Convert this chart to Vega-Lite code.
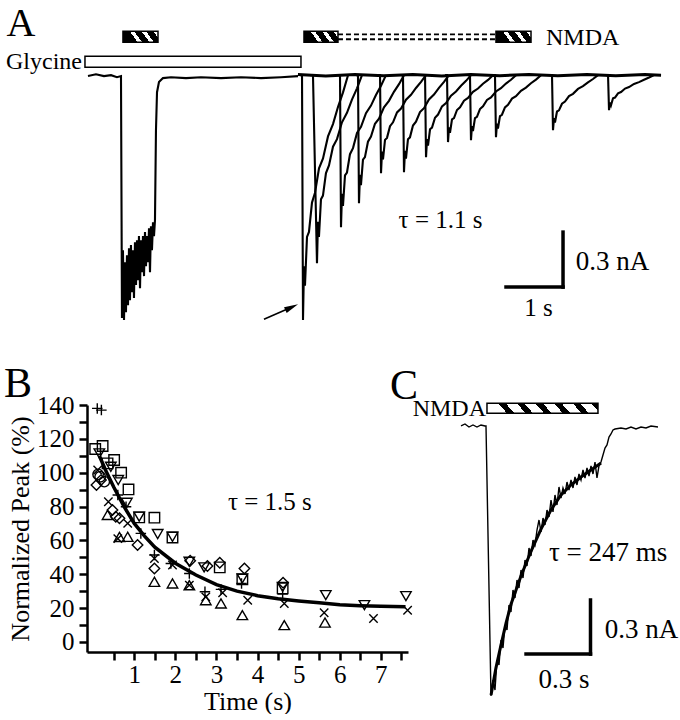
{
"$schema":"https://vega.github.io/schema/vega-lite/v6.json",
"padding":{"left":3,"top":0,"right":0,"bottom":0},
"background":"white",
"bounds":"flush",
"spacing":75,
"config":{"view":{"stroke":null},"font":"Liberation Serif","text":{"font":"Liberation Serif","color":"black"},"axis":{"grid":false,"labelFont":"Liberation Serif","titleFont":"Liberation Serif"}},
"datasets":{
"traceA":[
{"s":"g","t":1.500,"i":-0.005},{"s":"g","t":1.638,"i":0.005},{"s":"g","t":1.776,"i":-0.005},{"s":"g","t":1.897,"i":0},{"s":"g","t":2.000,"i":-0.011},{"s":"g","t":2.069,"i":-0.005},{"s":"g","t":2.086,"i":-1.325},{"s":"g","t":2.103,"i":-0.955},{"s":"g","t":2.121,"i":-1.336},{"s":"g","t":2.138,"i":-1.020},{"s":"g","t":2.155,"i":-1.293},{"s":"g","t":2.172,"i":-0.982},{"s":"g","t":2.190,"i":-1.255},{"s":"g","t":2.207,"i":-0.944},{"s":"g","t":2.224,"i":-1.227},{"s":"g","t":2.241,"i":-0.927},{"s":"g","t":2.259,"i":-1.184},{"s":"g","t":2.276,"i":-0.955},{"s":"g","t":2.293,"i":-1.216},{"s":"g","t":2.310,"i":-0.911},{"s":"g","t":2.328,"i":-1.145},{"s":"g","t":2.345,"i":-0.900},{"s":"g","t":2.362,"i":-1.118},{"s":"g","t":2.379,"i":-0.878},{"s":"g","t":2.397,"i":-1.162},{"s":"g","t":2.414,"i":-0.900},{"s":"g","t":2.431,"i":-1.075},{"s":"g","t":2.448,"i":-0.878},{"s":"g","t":2.466,"i":-1.096},{"s":"g","t":2.483,"i":-0.856},{"s":"g","t":2.500,"i":-1.042},{"s":"g","t":2.517,"i":-0.878},{"s":"g","t":2.534,"i":-1.020},{"s":"g","t":2.552,"i":-0.835},{"s":"g","t":2.569,"i":-1.075},{"s":"g","t":2.586,"i":-0.824},{"s":"g","t":2.603,"i":-0.955},{"s":"g","t":2.621,"i":-0.802},{"s":"g","t":2.638,"i":-0.878},{"s":"g","t":2.655,"i":-0.791},{"s":"g","t":2.672,"i":-0.300},{"s":"g","t":2.690,"i":-0.093},{"s":"g","t":2.724,"i":-0.038},{"s":"g","t":2.793,"i":-0.016},{"s":"g","t":2.931,"i":-0.011},{"s":"g","t":3.190,"i":-0.016},{"s":"g","t":3.448,"i":-0.011},{"s":"g","t":3.793,"i":-0.016},{"s":"g","t":4.138,"i":-0.011},{"s":"g","t":4.483,"i":-0.016},{"s":"g","t":4.828,"i":-0.011},{"s":"g","t":5.121,"i":-0.005},
{"s":"b","t":5.12,"i":0.003},{"s":"b","t":5.6,"i":-0.004},{"s":"b","t":6.1,"i":0.004},{"s":"b","t":6.6,"i":-0.003},{"s":"b","t":7.1,"i":0.004},{"s":"b","t":7.6,"i":-0.004},{"s":"b","t":8.1,"i":0.003},{"s":"b","t":8.6,"i":-0.003},{"s":"b","t":9.1,"i":0.004},{"s":"b","t":9.6,"i":-0.003},{"s":"b","t":10.1,"i":0.003},{"s":"b","t":10.6,"i":-0.003},{"s":"b","t":11.1,"i":0.003},{"s":"b","t":11.38,"i":0},
{"s":"s1","t":5.157,"i":0},{"s":"s1","t":5.190,"i":0},{"s":"s1","t":5.207,"i":-1.336},{"s":"s1","t":5.224,"i":-1.042},{"s":"s1","t":5.241,"i":-1.149},{"s":"s1","t":5.276,"i":-0.882},{"s":"s1","t":5.310,"i":-0.855},{"s":"s1","t":5.362,"i":-0.695},{"s":"s1","t":5.414,"i":-0.641},{"s":"s1","t":5.483,"i":-0.508},{"s":"s1","t":5.552,"i":-0.454},{"s":"s1","t":5.638,"i":-0.334},{"s":"s1","t":5.724,"i":-0.267},{"s":"s1","t":5.810,"i":-0.174},{"s":"s1","t":5.897,"i":-0.094},{"s":"s1","t":5.983,"i":0},
{"s":"s2","t":5.330,"i":0},{"s":"s2","t":5.379,"i":0},{"s":"s2","t":5.448,"i":-1.026},{"s":"s2","t":5.465,"i":-0.800},{"s":"s2","t":5.482,"i":-0.882},{"s":"s2","t":5.517,"i":-0.677},{"s":"s2","t":5.551,"i":-0.657},{"s":"s2","t":5.603,"i":-0.534},{"s":"s2","t":5.655,"i":-0.492},{"s":"s2","t":5.724,"i":-0.390},{"s":"s2","t":5.793,"i":-0.349},{"s":"s2","t":5.879,"i":-0.257},{"s":"s2","t":5.965,"i":-0.205},{"s":"s2","t":6.051,"i":-0.133},{"s":"s2","t":6.138,"i":-0.072},{"s":"s2","t":6.224,"i":0},
{"s":"s3","t":5.812,"i":0},{"s":"s3","t":5.845,"i":0},{"s":"s3","t":5.862,"i":-0.829},{"s":"s3","t":5.879,"i":-0.647},{"s":"s3","t":5.896,"i":-0.713},{"s":"s3","t":5.931,"i":-0.547},{"s":"s3","t":5.965,"i":-0.531},{"s":"s3","t":6.017,"i":-0.431},{"s":"s3","t":6.069,"i":-0.398},{"s":"s3","t":6.138,"i":-0.315},{"s":"s3","t":6.207,"i":-0.282},{"s":"s3","t":6.293,"i":-0.207},{"s":"s3","t":6.379,"i":-0.166},{"s":"s3","t":6.465,"i":-0.108},{"s":"s3","t":6.552,"i":-0.058},{"s":"s3","t":6.638,"i":0},
{"s":"s4","t":6.122,"i":0},{"s":"s4","t":6.155,"i":0},{"s":"s4","t":6.172,"i":-0.698},{"s":"s4","t":6.189,"i":-0.544},{"s":"s4","t":6.206,"i":-0.600},{"s":"s4","t":6.241,"i":-0.461},{"s":"s4","t":6.275,"i":-0.447},{"s":"s4","t":6.327,"i":-0.363},{"s":"s4","t":6.379,"i":-0.335},{"s":"s4","t":6.448,"i":-0.265},{"s":"s4","t":6.517,"i":-0.237},{"s":"s4","t":6.603,"i":-0.175},{"s":"s4","t":6.689,"i":-0.140},{"s":"s4","t":6.775,"i":-0.091},{"s":"s4","t":6.862,"i":-0.049},{"s":"s4","t":6.948,"i":0},
{"s":"s5","t":6.502,"i":0},{"s":"s5","t":6.535,"i":0},{"s":"s5","t":6.552,"i":-0.535},{"s":"s5","t":6.569,"i":-0.417},{"s":"s5","t":6.586,"i":-0.460},{"s":"s5","t":6.621,"i":-0.353},{"s":"s5","t":6.655,"i":-0.342},{"s":"s5","t":6.707,"i":-0.278},{"s":"s5","t":6.759,"i":-0.257},{"s":"s5","t":6.828,"i":-0.203},{"s":"s5","t":6.897,"i":-0.182},{"s":"s5","t":6.983,"i":-0.134},{"s":"s5","t":7.069,"i":-0.107},{"s":"s5","t":7.155,"i":-0.070},{"s":"s5","t":7.242,"i":-0.037},{"s":"s5","t":7.328,"i":0},
{"s":"s6","t":6.898,"i":0},{"s":"s6","t":6.931,"i":0},{"s":"s6","t":6.948,"i":-0.529},{"s":"s6","t":6.965,"i":-0.413},{"s":"s6","t":6.982,"i":-0.455},{"s":"s6","t":7.017,"i":-0.349},{"s":"s6","t":7.051,"i":-0.339},{"s":"s6","t":7.103,"i":-0.275},{"s":"s6","t":7.155,"i":-0.254},{"s":"s6","t":7.224,"i":-0.201},{"s":"s6","t":7.293,"i":-0.180},{"s":"s6","t":7.379,"i":-0.132},{"s":"s6","t":7.465,"i":-0.106},{"s":"s6","t":7.551,"i":-0.069},{"s":"s6","t":7.638,"i":-0.037},{"s":"s6","t":7.724,"i":0},
{"s":"s7","t":7.278,"i":0},{"s":"s7","t":7.311,"i":0},{"s":"s7","t":7.328,"i":-0.447},{"s":"s7","t":7.345,"i":-0.349},{"s":"s7","t":7.362,"i":-0.384},{"s":"s7","t":7.397,"i":-0.295},{"s":"s7","t":7.431,"i":-0.286},{"s":"s7","t":7.483,"i":-0.232},{"s":"s7","t":7.535,"i":-0.215},{"s":"s7","t":7.604,"i":-0.170},{"s":"s7","t":7.673,"i":-0.152},{"s":"s7","t":7.759,"i":-0.112},{"s":"s7","t":7.845,"i":-0.089},{"s":"s7","t":7.931,"i":-0.058},{"s":"s7","t":8.018,"i":-0.031},{"s":"s7","t":8.104,"i":0},
{"s":"s8","t":7.657,"i":0},{"s":"s8","t":7.690,"i":0},{"s":"s8","t":7.707,"i":-0.365},{"s":"s8","t":7.724,"i":-0.285},{"s":"s8","t":7.741,"i":-0.314},{"s":"s8","t":7.776,"i":-0.241},{"s":"s8","t":7.810,"i":-0.234},{"s":"s8","t":7.862,"i":-0.190},{"s":"s8","t":7.914,"i":-0.175},{"s":"s8","t":7.983,"i":-0.139},{"s":"s8","t":8.052,"i":-0.124},{"s":"s8","t":8.138,"i":-0.091},{"s":"s8","t":8.224,"i":-0.073},{"s":"s8","t":8.310,"i":-0.047},{"s":"s8","t":8.397,"i":-0.026},{"s":"s8","t":8.483,"i":0},
{"s":"s9","t":8.053,"i":0},{"s":"s9","t":8.086,"i":0},{"s":"s9","t":8.103,"i":-0.355},{"s":"s9","t":8.120,"i":-0.277},{"s":"s9","t":8.137,"i":-0.305},{"s":"s9","t":8.172,"i":-0.234},{"s":"s9","t":8.206,"i":-0.227},{"s":"s9","t":8.258,"i":-0.185},{"s":"s9","t":8.310,"i":-0.170},{"s":"s9","t":8.379,"i":-0.135},{"s":"s9","t":8.448,"i":-0.121},{"s":"s9","t":8.534,"i":-0.089},{"s":"s9","t":8.620,"i":-0.071},{"s":"s9","t":8.706,"i":-0.046},{"s":"s9","t":8.793,"i":-0.025},{"s":"s9","t":8.879,"i":0},
{"s":"s10","t":8.484,"i":0},{"s":"s10","t":8.517,"i":0},{"s":"s10","t":8.534,"i":-0.338},{"s":"s10","t":8.551,"i":-0.264},{"s":"s10","t":8.568,"i":-0.291},{"s":"s10","t":8.603,"i":-0.223},{"s":"s10","t":8.637,"i":-0.216},{"s":"s10","t":8.689,"i":-0.176},{"s":"s10","t":8.741,"i":-0.162},{"s":"s10","t":8.810,"i":-0.128},{"s":"s10","t":8.879,"i":-0.115},{"s":"s10","t":8.965,"i":-0.085},{"s":"s10","t":9.051,"i":-0.068},{"s":"s10","t":9.137,"i":-0.044},{"s":"s10","t":9.224,"i":-0.024},{"s":"s10","t":9.310,"i":0},
{"s":"s11","t":9.467,"i":0},{"s":"s11","t":9.500,"i":0},{"s":"s11","t":9.517,"i":-0.300},{"s":"s11","t":9.534,"i":-0.234},{"s":"s11","t":9.551,"i":-0.258},{"s":"s11","t":9.586,"i":-0.198},{"s":"s11","t":9.620,"i":-0.192},{"s":"s11","t":9.672,"i":-0.156},{"s":"s11","t":9.724,"i":-0.144},{"s":"s11","t":9.793,"i":-0.114},{"s":"s11","t":9.862,"i":-0.102},{"s":"s11","t":9.948,"i":-0.075},{"s":"s11","t":10.034,"i":-0.060},{"s":"s11","t":10.120,"i":-0.039},{"s":"s11","t":10.207,"i":-0.021},{"s":"s11","t":10.293,"i":0},
{"s":"s12","t":10.433,"i":0},{"s":"s12","t":10.466,"i":0},{"s":"s12","t":10.483,"i":-0.191},{"s":"s12","t":10.500,"i":-0.149},{"s":"s12","t":10.517,"i":-0.164},{"s":"s12","t":10.552,"i":-0.126},{"s":"s12","t":10.586,"i":-0.122},{"s":"s12","t":10.638,"i":-0.099},{"s":"s12","t":10.690,"i":-0.092},{"s":"s12","t":10.759,"i":-0.073},{"s":"s12","t":10.828,"i":-0.065},{"s":"s12","t":10.914,"i":-0.048},{"s":"s12","t":11.000,"i":-0.038},{"s":"s12","t":11.086,"i":-0.025},{"s":"s12","t":11.173,"i":-0.013},{"s":"s12","t":11.259,"i":0}
],
"pts":[
{"m":"plus","t":0.10,"y":138},{"m":"plus","t":0.20,"y":137},{"m":"plus","t":0.60,"y":86.8},{"m":"plus","t":0.80,"y":79.9},{"m":"plus","t":1.16,"y":64.1},{"m":"plus","t":1.49,"y":51.3},{"m":"plus","t":1.89,"y":46.3},{"m":"plus","t":2.34,"y":40.4},{"m":"plus","t":2.72,"y":29.6},{"m":"plus","t":3.11,"y":31},{"m":"plus","t":3.61,"y":34.5},{"m":"plus","t":4.61,"y":28.2},
{"m":"square","t":0.05,"y":114},{"m":"square","t":0.23,"y":115.8},{"m":"square","t":0.35,"y":105.5},{"m":"square","t":0.51,"y":107.5},{"m":"square","t":0.68,"y":100},{"m":"square","t":0.86,"y":90.1},{"m":"square","t":1.12,"y":73.6},{"m":"square","t":1.49,"y":73.4},{"m":"square","t":1.93,"y":61.7},{"m":"square","t":3.08,"y":44},{"m":"square","t":3.63,"y":36.9},{"m":"square","t":4.61,"y":31.6},
{"m":"tri_down","t":0.15,"y":111.4},{"m":"tri_down","t":0.43,"y":103.5},{"m":"tri_down","t":0.61,"y":95.6},{"m":"tri_down","t":0.82,"y":82.2},{"m":"tri_down","t":1.12,"y":74},{"m":"tri_down","t":1.57,"y":63.7},{"m":"tri_down","t":1.93,"y":62.1},{"m":"tri_down","t":2.34,"y":47.3},{"m":"tri_down","t":2.70,"y":44},{"m":"tri_down","t":3.63,"y":37.5},{"m":"tri_down","t":4.61,"y":32.5},{"m":"tri_down","t":5.66,"y":27.6},{"m":"tri_down","t":6.60,"y":21.7},{"m":"tri_down","t":7.61,"y":27},
{"m":"diamond","t":0.08,"y":92.7},{"m":"diamond","t":0.19,"y":95.6},{"m":"diamond","t":0.47,"y":77.9},{"m":"diamond","t":0.55,"y":74},{"m":"diamond","t":0.64,"y":73},{"m":"diamond","t":1.08,"y":57.2},{"m":"diamond","t":1.49,"y":43.4},{"m":"diamond","t":2.36,"y":47.9},{"m":"diamond","t":2.78,"y":44.8},{"m":"diamond","t":3.08,"y":46.7},{"m":"diamond","t":3.68,"y":43.4},{"m":"diamond","t":4.62,"y":34.9},
{"m":"circle","t":0.17,"y":97.6},{"m":"circle","t":0.27,"y":94.7},{"m":"circle","t":0.12,"y":99},
{"m":"x","t":0.11,"y":101.6},{"m":"x","t":0.37,"y":82.8},{"m":"x","t":0.60,"y":61},{"m":"x","t":0.84,"y":70},{"m":"x","t":1.49,"y":49.3},{"m":"x","t":1.93,"y":45.4},{"m":"x","t":2.34,"y":33.5},{"m":"x","t":2.74,"y":26.6},{"m":"x","t":3.15,"y":29},{"m":"x","t":3.76,"y":24.6},{"m":"x","t":4.65,"y":22.7},{"m":"x","t":5.62,"y":17.2},{"m":"x","t":6.82,"y":13.8},{"m":"x","t":7.65,"y":18.7},
{"m":"tri_up","t":0.35,"y":75},{"m":"tri_up","t":0.64,"y":62},{"m":"tri_up","t":0.84,"y":62.1},{"m":"tri_up","t":1.49,"y":35.5},{"m":"tri_up","t":1.93,"y":34.5},{"m":"tri_up","t":2.34,"y":33.5},{"m":"tri_up","t":2.74,"y":24.6},{"m":"tri_up","t":3.11,"y":22.7},{"m":"tri_up","t":3.63,"y":15.8},{"m":"tri_up","t":4.65,"y":9.9},{"m":"tri_up","t":5.64,"y":11.4}
],
"fitB":[
{"t":0.15,"y":110},{"t":0.3,"y":101.6},{"t":0.5,"y":91.5},{"t":0.75,"y":80},{"t":1.0,"y":70},{"t":1.25,"y":62.5},{"t":1.5,"y":56},{"t":2.0,"y":46.5},{"t":2.5,"y":39.5},{"t":3.0,"y":33.8},{"t":3.5,"y":30},{"t":4.0,"y":27.3},{"t":4.5,"y":25.5},{"t":5.0,"y":24.2},{"t":5.5,"y":23.1},{"t":6.0,"y":22},{"t":6.5,"y":21.4},{"t":7.0,"y":21},{"t":7.6,"y":20.7}
],
"traceC":[
{"t":0.1364,"i":0},{"t":0.1545,"i":0.011},{"t":0.1727,"i":-0.0055},{"t":0.1909,"i":0.0055},{"t":0.2091,"i":-0.0055},{"t":0.2273,"i":0.0055},{"t":0.2455,"i":0},{"t":0.25,"i":0},{"t":0.2727,"i":-1.4727},{"t":0.2818,"i":-1.3855},{"t":0.2909,"i":-1.44},{"t":0.3,"i":-1.2764},{"t":0.3091,"i":-1.3036},{"t":0.3182,"i":-1.1673},{"t":0.3273,"i":-1.2109},{"t":0.3364,"i":-1.0855},{"t":0.3455,"i":-1.1127},{"t":0.3545,"i":-0.9764},{"t":0.3636,"i":-1.0145},{"t":0.3727,"i":-0.8945},{"t":0.3818,"i":-0.9382},{"t":0.3909,"i":-0.84},{"t":0.4,"i":-0.8836},{"t":0.4091,"i":-0.7855},{"t":0.4182,"i":-0.8291},{"t":0.4273,"i":-0.7309},{"t":0.4364,"i":-0.7636},{"t":0.4455,"i":-0.6655},{"t":0.4545,"i":-0.7091},{"t":0.4636,"i":-0.6218},{"t":0.4727,"i":-0.6491},{"t":0.4818,"i":-0.5673},{"t":0.4909,"i":-0.5127},{"t":0.5,"i":-0.5782},{"t":0.5091,"i":-0.5018},{"t":0.5182,"i":-0.54},{"t":0.5273,"i":-0.4582},{"t":0.5364,"i":-0.4964},{"t":0.5455,"i":-0.4036},{"t":0.5545,"i":-0.4691},{"t":0.5636,"i":-0.3764},{"t":0.5727,"i":-0.4309},{"t":0.5818,"i":-0.3327},{"t":0.5909,"i":-0.3927},{"t":0.6,"i":-0.3382},{"t":0.6091,"i":-0.3709},{"t":0.6182,"i":-0.3055},{"t":0.6273,"i":-0.3491},{"t":0.6364,"i":-0.2945},{"t":0.6455,"i":-0.3382},{"t":0.6545,"i":-0.2782},{"t":0.6636,"i":-0.3218},{"t":0.6727,"i":-0.2618},{"t":0.6818,"i":-0.2945},{"t":0.6909,"i":-0.24},{"t":0.7,"i":-0.2836},{"t":0.7091,"i":-0.2291},{"t":0.7182,"i":-0.2727},{"t":0.7273,"i":-0.2182},{"t":0.7364,"i":-0.2618},{"t":0.7455,"i":-0.1964},{"t":0.7545,"i":-0.2836},{"t":0.7636,"i":-0.2182},{"t":0.7727,"i":-0.1964},{"t":0.7818,"i":-0.1582},{"t":0.7909,"i":-0.12},{"t":0.8,"i":-0.1036},{"t":0.8091,"i":-0.06},{"t":0.8182,"i":-0.0436},{"t":0.8273,"i":-0.0218},{"t":0.8364,"i":-0.0164},{"t":0.8636,"i":-0.0109},{"t":0.8864,"i":-0.0164},{"t":0.9091,"i":-0.0055},{"t":0.9318,"i":-0.0164},{"t":0.9545,"i":-0.0055},{"t":0.9773,"i":-0.0109},{"t":1.0,"i":0},{"t":1.0318,"i":-0.0055}
],
"fitC":[
{"t":0.273,"i":-1.467},{"t":0.295,"i":-1.320},{"t":0.318,"i":-1.195},{"t":0.341,"i":-1.075},{"t":0.364,"i":-0.971},{"t":0.409,"i":-0.818},{"t":0.455,"i":-0.682},{"t":0.5,"i":-0.562},{"t":0.545,"i":-0.458},{"t":0.591,"i":-0.376},{"t":0.636,"i":-0.322},{"t":0.682,"i":-0.278},{"t":0.727,"i":-0.240},{"t":0.773,"i":-0.202}
]
},
"vconcat":[
{
"width":594,"height":330,
"encoding":{
"x":{"field":"t","type":"quantitative","scale":{"domain":[1.483,11.724],"nice":false,"zero":false},"axis":null},
"y":{"field":"i","type":"quantitative","scale":{"domain":[-1.39,0.41],"nice":false,"zero":false},"axis":null}
},
"layer":[
{"data":{"values":[{"t":1.448,"t2":5.172,"i":0.0436,"i2":0.1036}]},"mark":{"type":"rect","fill":"white","stroke":"black","strokeWidth":1.5},"encoding":{"x2":{"field":"t2"},"y2":{"field":"i2"}}},
{"data":{"values":[{"t":2.103,"t2":2.707,"i":0.180,"i2":0.240},{"t":5.224,"t2":5.810,"i":0.180,"i2":0.240},{"t":8.534,"t2":9.138,"i":0.180,"i2":0.240}]},
 "mark":{"type":"rect","stroke":"black","strokeWidth":1.5,"fill":{"gradient":"linear","x1":0,"y1":0,"x2":1,"y2":-0.23,"stops":[{"offset":0,"color":"black"},{"offset":0.18,"color":"black"},{"offset":0.18,"color":"white"},{"offset":0.3,"color":"white"},{"offset":0.3,"color":"black"},{"offset":0.5,"color":"black"},{"offset":0.5,"color":"white"},{"offset":0.62,"color":"white"},{"offset":0.62,"color":"black"},{"offset":0.82,"color":"black"},{"offset":0.82,"color":"white"},{"offset":0.92,"color":"white"},{"offset":0.92,"color":"black"},{"offset":1,"color":"black"}]}},
 "encoding":{"x2":{"field":"t2"},"y2":{"field":"i2"}}},
{"data":{"values":[{"t":5.81,"t2":8.534,"i":0.222},{"t":5.81,"t2":8.534,"i":0.196}]},"mark":{"type":"rule","strokeDash":[5,3],"strokeWidth":1.8,"color":"black"},"encoding":{"x2":{"field":"t2"}}},
{"data":{"name":"traceA"},"transform":[{"filter":"datum.s !== 'b'"}],"mark":{"type":"line","color":"black","strokeWidth":2.1},"encoding":{"detail":{"field":"s"}}},
{"data":{"name":"traceA"},"transform":[{"filter":"datum.s === 'b'"}],"mark":{"type":"line","color":"black","strokeWidth":3},"encoding":{"detail":{"field":"s"}}},
{"data":{"values":[{"t":9.690,"t2":9.690,"i":-0.856,"i2":-1.156},{"t":8.707,"t2":9.690,"i":-1.156,"i2":-1.156}]},"mark":{"type":"rule","color":"black","strokeWidth":3.5,"strokeCap":"square"},"encoding":{"x2":{"field":"t2"},"y2":{"field":"i2"}}},
{"data":{"values":[{"t":4.534,"t2":5.017,"i":-1.331,"i2":-1.265}]},"mark":{"type":"rule","color":"black","strokeWidth":1.6},"encoding":{"x2":{"field":"t2"},"y2":{"field":"i2"}}},
{"data":{"values":[{"t":5.012,"i":-1.265}]},"mark":{"type":"point","filled":true,"color":"black","opacity":1,"shape":"M1,0L-1,-0.45L-1,0.45Z","size":196,"angle":335}},
{"data":{"values":[{"t":0.345,"i":0.2138,"label":"A"}]},"mark":{"type":"text","font":"Liberation Serif","fontSize":40,"align":"center","baseline":"alphabetic"},"encoding":{"text":{"field":"label"}}},
{"data":{"values":[{"t":1.397,"i":0.0736,"label":"Glycine"}]},"mark":{"type":"text","font":"Liberation Serif","fontSize":24,"align":"right","baseline":"middle"},"encoding":{"text":{"field":"label"}}},
{"data":{"values":[{"t":9.397,"i":0.2045,"label":"NMDA"}]},"mark":{"type":"text","font":"Liberation Serif","fontSize":24,"align":"left","baseline":"middle"},"encoding":{"text":{"field":"label"}}},
{"data":{"values":[{"t":7.578,"i":-0.791,"label":"τ = 1.1 s"},{"t":9.267,"i":-1.271,"label":"1 s"}]},"mark":{"type":"text","font":"Liberation Serif","fontSize":25,"align":"center","baseline":"middle"},"encoding":{"text":{"field":"label"}}},
{"data":{"values":[{"t":10.543,"i":-1.018,"label":"0.3 nA"}]},"mark":{"type":"text","font":"Liberation Serif","fontSize":27,"align":"center","baseline":"middle"},"encoding":{"text":{"field":"label"}}}
]
},
{
"hconcat":[
{
"width":321,"height":247,
"encoding":{
"x":{"field":"t","type":"quantitative","scale":{"domain":[-0.15,7.66],"nice":false,"zero":false},
 "axis":{"title":"Time (s)","values":[0.5,1,1.5,2,2.5,3,3.5,4,4.5,5,5.5,6,6.5,7,7.5],"labelExpr":"datum.value % 1 === 0 ? '' + datum.value : ''","grid":false,"domainColor":"black","domainWidth":2.5,"tickColor":"black","tickWidth":2.5,"tickSize":8,"labelFont":"Liberation Serif","labelFontSize":25,"labelColor":"black","labelPadding":2,"labelFlush":false,"labelOverlap":false,"titleFont":"Liberation Serif","titleFontSize":26,"titleFontWeight":"normal","titleColor":"black","titlePadding":1}},
"y":{"field":"y","type":"quantitative","scale":{"domain":[-6,140],"nice":false,"zero":false},
 "axis":{"title":"Normalized Peak (%)","values":[0,10,20,30,40,50,60,70,80,90,100,110,120,130,140],"labelExpr":"datum.value % 20 === 0 ? '' + datum.value : ''","grid":false,"domainColor":"black","domainWidth":2.5,"tickColor":"black","tickWidth":2.5,"tickSize":8,"labelFont":"Liberation Serif","labelFontSize":25,"labelColor":"black","labelPadding":5,"labelFlush":false,"labelOverlap":false,"titleFont":"Liberation Serif","titleFontSize":26,"titleFontWeight":"normal","titleColor":"black","titlePadding":3}}
},
"layer":[
{"data":{"name":"fitB"},"mark":{"type":"line","color":"black","strokeWidth":3.5}},
{"data":{"name":"pts"},"mark":{"type":"point","filled":false,"color":"black","strokeWidth":1.4,"size":110,"opacity":1},
 "encoding":{"shape":{"field":"m","type":"nominal","legend":null,"scale":{"domain":["circle","diamond","plus","square","tri_down","tri_up","x"],"range":["circle","diamond","M-1,0L1,0M0,-1L0,1","square","triangle-down","triangle-up","M-0.8,-0.8L0.8,0.8M-0.8,0.8L0.8,-0.8"]}}}},
{"data":{"values":[{"t":4.30,"y":82.9,"label":"τ = 1.5 s"}]},"mark":{"type":"text","font":"Liberation Serif","fontSize":25,"align":"center","baseline":"middle"},"encoding":{"text":{"field":"label"}}},
{"data":{"values":[{"t":-1.83,"y":152.4,"label":"B"}]},"mark":{"type":"text","font":"Liberation Serif","fontSize":42,"align":"center","baseline":"middle"},"encoding":{"text":{"field":"label"}}}
]
},
{
"width":250,"height":300,
"encoding":{
"x":{"field":"t","type":"quantitative","scale":{"domain":[0,1.1364],"nice":false,"zero":false},"axis":null},
"y":{"field":"i","type":"quantitative","scale":{"domain":[-1.5218,0.1145],"nice":false,"zero":false},"axis":null}
},
"layer":[
{"data":{"name":"traceC"},"mark":{"type":"line","color":"black","strokeWidth":1.4}},
{"data":{"name":"fitC"},"mark":{"type":"line","color":"black","strokeWidth":3}},
{"data":{"values":[{"t":0.2545,"t2":0.759,"i":0.069,"i2":0.124}]},
 "mark":{"type":"rect","stroke":"black","strokeWidth":1.5,"fill":{"gradient":"linear","x1":0,"y1":0,"x2":1,"y2":-0.08,"stops":[{"offset":0,"color":"white"},{"offset":0.1,"color":"white"},{"offset":0.1,"color":"black"},{"offset":0.167,"color":"black"},{"offset":0.167,"color":"white"},{"offset":0.267,"color":"white"},{"offset":0.267,"color":"black"},{"offset":0.333,"color":"black"},{"offset":0.333,"color":"white"},{"offset":0.433,"color":"white"},{"offset":0.433,"color":"black"},{"offset":0.5,"color":"black"},{"offset":0.5,"color":"white"},{"offset":0.6,"color":"white"},{"offset":0.6,"color":"black"},{"offset":0.667,"color":"black"},{"offset":0.667,"color":"white"},{"offset":0.767,"color":"white"},{"offset":0.767,"color":"black"},{"offset":0.833,"color":"black"},{"offset":0.833,"color":"white"},{"offset":0.933,"color":"white"},{"offset":0.933,"color":"black"},{"offset":1,"color":"black"}]}},
 "encoding":{"x2":{"field":"t2"},"y2":{"field":"i2"}}},
{"data":{"values":[{"t":0.725,"t2":0.725,"i":-0.949,"i2":-1.244},{"t":0.432,"t2":0.725,"i":-1.244,"i2":-1.244}]},"mark":{"type":"rule","color":"black","strokeWidth":3.5,"strokeCap":"square"},"encoding":{"x2":{"field":"t2"},"y2":{"field":"i2"}}},
{"data":{"values":[{"t":-0.123,"i":0.218,"label":"C"}]},"mark":{"type":"text","font":"Liberation Serif","fontSize":42,"align":"center","baseline":"middle"},"encoding":{"text":{"field":"label"}}},
{"data":{"values":[{"t":0.25,"i":0.0927,"label":"NMDA"}]},"mark":{"type":"text","font":"Liberation Serif","fontSize":24,"align":"right","baseline":"middle"},"encoding":{"text":{"field":"label"}}},
{"data":{"values":[{"t":0.805,"i":-0.693,"label":"τ = 247 ms"},{"t":0.957,"i":-1.113,"label":"0.3 nA"},{"t":0.605,"i":-1.385,"label":"0.3 s"}]},"mark":{"type":"text","font":"Liberation Serif","fontSize":27,"align":"center","baseline":"middle"},"encoding":{"text":{"field":"label"}}}
]
}
],
"spacing":23,
"bounds":"flush"
}
]
}
